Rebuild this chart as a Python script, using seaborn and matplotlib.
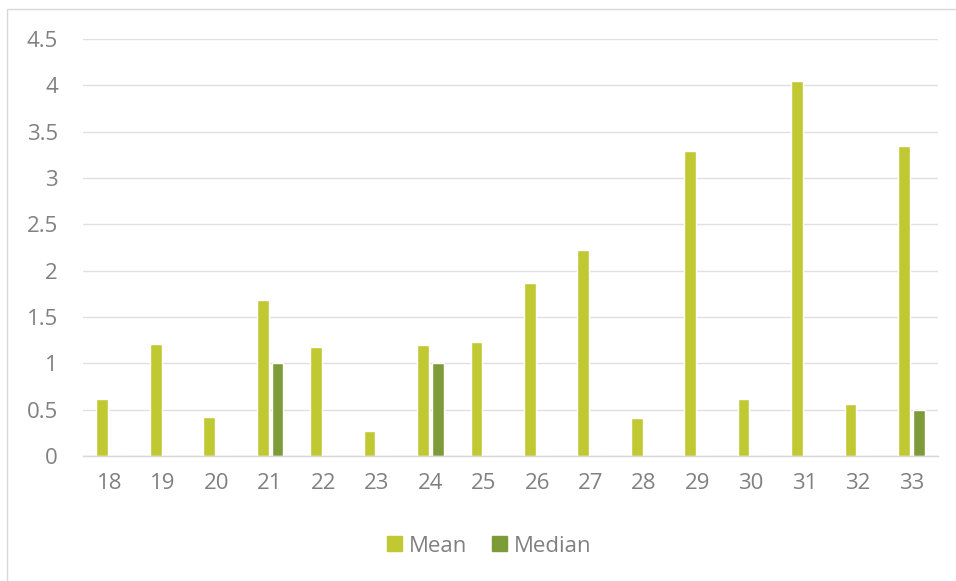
import matplotlib
matplotlib.use("Agg")
import pandas as pd
import matplotlib.pyplot as plt
import seaborn as sns
from matplotlib.patches import Rectangle

ages = [18, 19, 20, 21, 22, 23, 24, 25, 26, 27, 28, 29, 30, 31, 32, 33]
mean_vals = [0.61, 1.21, 0.42, 1.68, 1.18, 0.27, 1.20, 1.23, 1.87, 2.22, 0.41, 3.29, 0.62, 4.05, 0.56, 3.35]
median_vals = [0, 0, 0, 1.0, 0, 0, 1.0, 0, 0, 0, 0, 0, 0, 0, 0, 0.5]
y_ticks = [0, 0.5, 1, 1.5, 2, 2.5, 3, 3.5, 4, 4.5]
y_labels = ["0", "0.5", "1", "1.5", "2", "2.5", "3", "3.5", "4", "4.5"]

df = pd.DataFrame({
    "age": [str(a) for a in ages] * 2,
    "value": mean_vals + median_vals,
    "stat": ["Mean"] * len(ages) + ["Median"] * len(ages),
})

sns.set_style("white")
plt.rcParams["font.family"] = ["Open Sans", "DejaVu Sans"]

fig = plt.figure(figsize=(9.56, 5.81), dpi=100)
ax = fig.add_axes([83 / 956, 1 - 456 / 581, 855 / 956, 417 / 581])

# light chart-area border
fig.patches.append(Rectangle((7 / 956, -0.05), 1.0, 1 - 9 / 581 + 0.05,
                             transform=fig.transFigure, fill=False,
                             edgecolor="#D9D9D9", linewidth=1.0))

colors = {"Mean": "#C0C832", "Median": "#7E9B3A"}
sns.barplot(data=df, x="age", y="value", hue="stat", palette=colors,
            saturation=1, width=0.55, gap=0.2, ax=ax, legend=False)

ax.set_ylim(0, 4.5)
ax.set_xlim(-0.5, len(ages) - 0.5)
ax.set_yticks(y_ticks)
ax.set_yticklabels(y_labels)
ax.yaxis.grid(True, color="#E0E0E0", linewidth=1.0)
ax.set_axisbelow(True)
for s in ["top", "right", "left"]:
    ax.spines[s].set_visible(False)
ax.spines["bottom"].set_color("#D9D9D9")
ax.spines["bottom"].set_linewidth(1.0)
ax.tick_params(axis="both", length=0, colors="#808080", labelsize=16)
ax.tick_params(axis="y", pad=18)
ax.tick_params(axis="x", pad=12)
ax.set_xlabel("")
ax.set_ylabel("")

handles = [Rectangle((0, 0), 1, 1, color=colors["Mean"]),
           Rectangle((0, 0), 1, 1, color=colors["Median"])]
fig.legend(handles, ["Mean", "Median"], loc="center",
           bbox_to_anchor=(489 / 956, 1 - 546 / 581), ncol=2, frameon=False,
           fontsize=16, labelcolor="#808080", handlelength=0.68,
           handleheight=0.68, handletextpad=0.3, columnspacing=1.1)

fig.savefig("out.png", dpi=100)
